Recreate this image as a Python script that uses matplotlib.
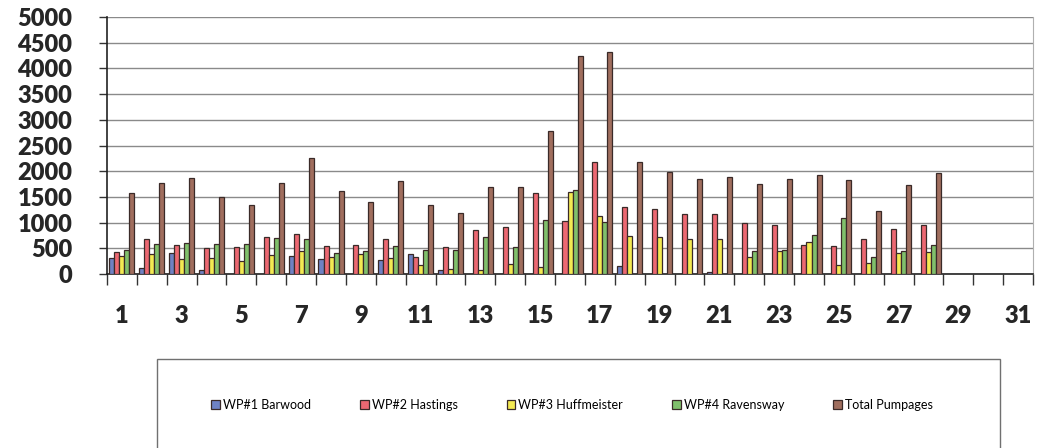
import numpy as np
import matplotlib
matplotlib.use('Agg')
import matplotlib.pyplot as plt
from matplotlib.patches import Rectangle

# Daily pumpage per well (days 1-28 have data, 29-31 empty)
days = np.arange(1, 32)
barwood = [320, 110, 410, 70, 0, 0, 350, 300, 0, 270, 390, 75, 0, 0, 0,
           0, 0, 150, 0, 0, 35, 0, 0, 0, 0, 0, 0, 0]
hastings = [430, 680, 570, 510, 520, 715, 780, 550, 565, 680, 325, 535, 855, 910, 1585,
            1025, 2170, 1295, 1265, 1160, 1165, 995, 945, 565, 550, 690, 880, 960]
huffmeister = [350, 380, 295, 305, 250, 360, 455, 340, 385, 310, 170, 95, 85, 200, 130,
               1590, 1135, 740, 725, 680, 680, 335, 440, 630, 170, 215, 410, 425]
ravensway = [475, 590, 600, 590, 575, 700, 685, 415, 440, 540, 470, 475, 720, 535, 1055,
             1635, 1005, 0, 0, 0, 0, 440, 475, 765, 1090, 325, 440, 570]
total = [1585, 1765, 1865, 1490, 1345, 1765, 2265, 1610, 1400, 1815, 1335, 1190, 1695, 1685, 2780,
         4250, 4315, 2185, 1990, 1845, 1895, 1755, 1840, 1935, 1820, 1220, 1730, 1965]

series = [
    ('WP#1 Barwood', barwood, '#6f82c4'),
    ('WP#2 Hastings', hastings, '#ec6872'),
    ('WP#3 Huffmeister', huffmeister, '#f4ea52'),
    ('WP#4 Ravensway', ravensway, '#80c06c'),
    ('Total Pumpages', total, '#a06e5e'),
]


def pad_month(vals):
    # fill the days without readings so no bar is drawn there
    out = np.full(len(days), np.nan)
    out[:len(vals)] = vals
    out[out == 0] = np.nan
    return out


fig = plt.figure(figsize=(10.46, 4.48), dpi=100)
ax = fig.add_axes([0.1023, 0.3884, 0.8853, 0.5736])

bw = 0.168
for i, (name, vals, col) in enumerate(series):
    offs = (i - 2) * bw
    ax.bar(days + offs, pad_month(vals), width=bw, color=col,
           edgecolor='#3a2a28', linewidth=0.9, label=name, zorder=3)

ax.set_xlim(0.5, 31.5)
ax.set_ylim(0, 5000)
ax.set_yticks(np.arange(0, 5001, 500))
ax.set_xticks(np.arange(1, 32, 2))
ax.set_xticks(np.arange(0.5, 32, 1), minor=True)

ax.grid(axis='y', color='#8a8a8a', linewidth=1.0, zorder=0)
ax.tick_params(axis='x', which='major', length=0, pad=22)
ax.tick_params(axis='x', which='minor', length=8, width=1, direction='out', color='#333333')
ax.tick_params(axis='y', length=6, width=1, direction='out', pad=19, color='#333333')

for lab in ax.get_xticklabels() + ax.get_yticklabels():
    lab.set_fontfamily('Lato')
    lab.set_fontweight('heavy')
    lab.set_fontsize(17)
    lab.set_color('#262626')

ax.spines['top'].set_visible(False)
ax.spines['right'].set_color('#b0b0b0')
ax.spines['left'].set_color('#222222')
ax.spines['bottom'].set_color('#222222')
ax.spines['left'].set_linewidth(1.2)
ax.spines['bottom'].set_linewidth(1.2)

# legend box below the plot
fig.patches.append(Rectangle((157 / 1046, -0.05), (1000 - 157) / 1046, 0.05 + (448 - 359) / 448,
                             transform=fig.transFigure, fill=False,
                             edgecolor='#707070', linewidth=1.0))
fig.legend(loc='center', bbox_to_anchor=(0.547, 1 - 405 / 448), ncol=5, frameon=False,
           prop={'family': 'Lato', 'size': 9}, handlelength=0.7, handleheight=0.7,
           handletextpad=0.25, columnspacing=3.9)

fig.savefig('out.png', dpi=100)
